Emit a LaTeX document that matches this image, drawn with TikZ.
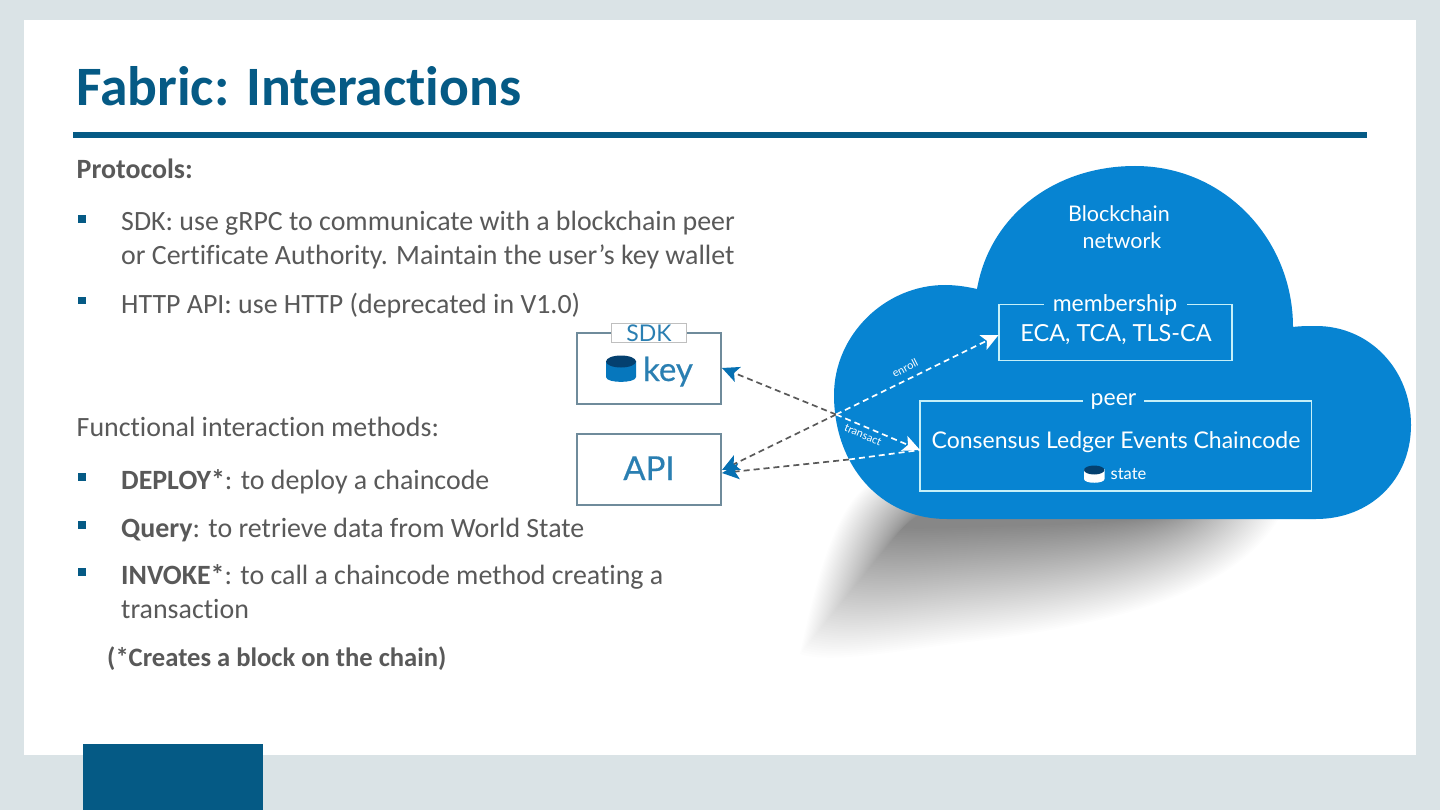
\documentclass[tikz,border=0pt]{standalone}
\usepackage{fontspec}
\setmainfont[Ligatures=NoCommon]{Carlito}
\newfontfamily\gill{Lato}
\newfontfamily\gillb[FakeBold=0.5]{Lato}
\usetikzlibrary{arrows.meta,calc}
\definecolor{bgc}{HTML}{DAE3E6}
\definecolor{navy}{HTML}{055A85}
\definecolor{txt}{HTML}{595959}
\definecolor{cloudc}{HTML}{0784D2}
\definecolor{boxline}{HTML}{6F8B9B}
\definecolor{inkb}{HTML}{2A7FB2}
\definecolor{cyld}{HTML}{04406F}
\definecolor{iceline}{HTML}{C6F0F8}
\newcommand{\fs}[1]{\fontsize{#1pt}{#1pt}\selectfont}
\newcommand{\cloudpath}{(947,519) .. controls (880,519) and (834,465) .. (834,395)
 .. controls (834,335) and (885,285) .. (945,285)
 .. controls (957,285) and (968,287) .. (977,289)
 .. controls (990,215) and (1055,166) .. (1135,166)
 .. controls (1225,166) and (1293,240) .. (1293,327)
 .. controls (1300,326) and (1310,326) .. (1316,326)
 .. controls (1370,326) and (1411,370) .. (1411,425)
 .. controls (1411,480) and (1370,519) .. (1316,519) -- cycle}
\tikzset{
 x=1pt,y=-1pt,
 bodyt/.style={anchor=base west,inner sep=0pt,text=txt,font=\fs{27.9}},
 bodyb/.style={bodyt,font=\fs{27.9}\bfseries},
 bul/.style={fill=navy,draw=none,minimum size=7.5pt,inner sep=0pt},
 whitebox/.style={draw=boxline,line width=1.3pt,fill=white,inner sep=0pt},
 icebox/.style={draw=iceline,line width=1.4pt,inner sep=0pt},
 cloudt/.style={text=white,inner sep=0pt,font=\gill\fs{23}},
 dashg/.style={draw=black!65,line width=1.7pt,dash pattern=on 6pt off 4pt},
 dashw/.style={draw=white,line width=1.7pt,dash pattern=on 6pt off 4pt},
 tipb/.style={-{Stealth[length=17pt,width=16pt,inset=4pt,color=cloudc!85!black]}},
 tipw/.style={-{Stealth[length=17pt,width=16pt,inset=4pt,color=white]}},
}
\begin{document}
\begin{tikzpicture}
\useasboundingbox (0,0) rectangle (1440,810);
\fill[bgc] (0,0) rectangle (1440,810);
\fill[white] (24,20) rectangle (1416,755);
\fill[navy] (83,744) rectangle (263,810);
\node[anchor=base west,inner sep=0pt,text=navy,font=\fs{55.6}\bfseries] (title) at (76,106) {Fabric: Interactions};
\fill[navy] (73,132.5) rectangle (1367,138);
% texts
\node[bodyb] (t1) at (76.5,179) {Protocols:};
\node[bul] (b1) at (82,219) {}; \node[bodyt] (t2) at (121,231) {SDK: use gRPC to communicate with a blockchain peer};
\node[bodyt] (t3) at (121,265) {or Certificate Authority. Maintain the user’s key wallet};
\node[bul] (b2) at (82,300.5) {}; \node[bodyt] (t4) at (121,313) {HTTP API: use HTTP (deprecated in V1.0)};
\node[bodyt] (t5) at (76.5,436) {Functional interaction methods:};
\node[bul] (b3) at (82,477) {}; \node[bodyt] (t6) at (121,489) {\textbf{DEPLOY*}: to deploy a chaincode};
\node[bul] (b4) at (82,525) {}; \node[bodyt] (t7) at (121,537) {\textbf{Query}: to retrieve data from World State};
\node[bul] (b5) at (82,572) {}; \node[bodyt] (t8) at (121,584) {\textbf{INVOKE*}: to call a chaincode method creating a};
\node[bodyt] (t9) at (121,618) {transaction};
\node[bodyb,font=\fs{26.6}\bfseries] (t10) at (107,666) {(*Creates a block on the chain)};
% shadow
\foreach \i in {0,...,59}{
 \pgfmathsetmacro{\sx}{1-\i*0.0075}
 \pgfmathsetmacro{\sy}{1-\i*0.0150}
 \begin{scope}[shift={(1030,512)},xscale=\sx,yscale=\sy,shift={(-1030,-512)}]
 \fill[black,opacity=0.0095] (800,654) .. controls (820,560) and (840,500) .. (875,480)
  -- (1200,490) -- (1278,520) .. controls (1230,600) and (1090,628) .. (960,643)
  .. controls (890,652) and (830,664) .. (800,654) -- cycle;
 \end{scope}
}
% cloud
\fill[cloudc] \cloudpath;
% boxes
\node[whitebox,minimum width=144pt,minimum height=71pt] (keybox) at (649,368.5) {};
\node[whitebox,minimum width=144pt,minimum height=71pt] (apibox) at (649,469.5) {};
\node[draw=black!25,fill=white,line width=.8pt,minimum width=75pt,minimum height=19pt,inner sep=0pt,text=inkb,font=\gill\fs{23}] (sdk) at (649,333) {SDK};
\node[inner sep=0pt,text=inkb,font=\gillb\fs{33},anchor=base] (keyt) at (668,381) {key};
\node[inner sep=0pt,text=inkb,font=\gillb\fs{33},anchor=base] (apit) at (649,480) {API};
\fill[cloudc!90!black] (606,361) -- (606,377) .. controls (606,383.5) and (636,383.5) .. (636,377) -- (636,361) -- cycle;
\fill[cyld] (621,361.5) ellipse [x radius=15pt,y radius=6pt];
\node[icebox,minimum width=233pt,minimum height=56pt] (memb) at (1115.5,332.5) {};
\node[icebox,minimum width=391.5pt,minimum height=90pt] (peer) at (1115.75,446) {};
\node[cloudt,fill=cloudc,minimum width=143pt,minimum height=20pt,anchor=center] (membl) at (1115,305) {membership};
\node[cloudt,fill=cloudc,minimum width=61pt,minimum height=20pt,anchor=center] (peerl) at (1113.5,402) {peer};
\node[cloudt,anchor=base,font=\gill\fs{23.5}] (eca) at (1116,341) {ECA, TCA, TLS-CA};
\node[cloudt,anchor=base] (cons) at (1116,448) {Consensus Ledger Events Chaincode};
\node[cloudt,anchor=base,font=\gill\fs{16.5}] (state) at (1128.5,479) {state};
\node[cloudt,anchor=base,font=\gill\fs{21.5}] (net1) at (1119,222) {Blockchain};
\node[cloudt,anchor=base,font=\gill\fs{21.5}] (net2) at (1122,249) {network};
\fill[white] (1084,469) -- (1084,479) .. controls (1084,484) and (1104.5,484) .. (1104.5,479) -- (1104.5,469) -- cycle;
\fill[cyld] (1094.2,470) ellipse [x radius=10.2pt,y radius=4.5pt];
\node[cloudt,font=\gill\fs{11},rotate=27] (enr) at (905,368) {enroll};
\node[cloudt,font=\gill\fs{11},rotate=-23] (tra) at (863,435) {transact};
% connectors
\coordinate (hub) at (836,414.5);
\coordinate (keyin) at (722,368);
\coordinate (apiin1) at (722,470);
\coordinate (apiin2) at (722,473);
\coordinate (peerin) at (920,450);
\coordinate (edge) at (849,459.5);
\coordinate (membin) at (998.5,335);
\draw[dashg,tipb] (hub) -- (keyin);
\draw[dashg,tipb] (hub) -- (apiin1);
\draw[dashg,tipb] (edge) -- (apiin2);
\draw[dashw] (edge) -- (peerin);
\draw[dashw,tipw] (hub) -- (membin);
\draw[dashw,tipw] (hub) -- (peerin);
\end{tikzpicture}
\end{document}
